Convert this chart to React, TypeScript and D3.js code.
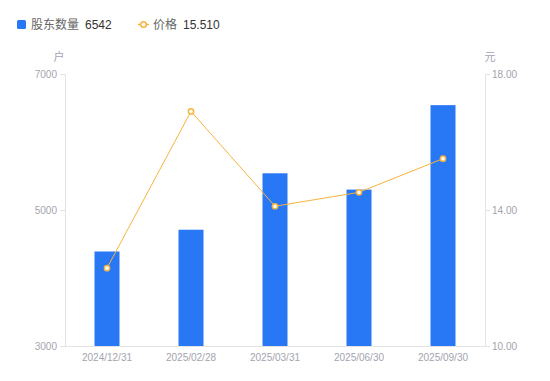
import React from "react";
import * as d3 from "d3";

const categories = ["2024/12/31", "2025/02/28", "2025/03/31", "2025/06/30", "2025/09/30"];
const holders = [4390, 4710, 5540, 5300, 6542];
const prices = [12.29, 16.9, 14.11, 14.52, 15.51];
const leftTicks = [3000, 5000, 7000];
const rightTicks = [10, 14, 18];

const W = 550;
const H = 381;
const M = { left: 65, right: 485, top: 74, bottom: 346 };
const FONT = "'Liberation Sans', 'Noto Sans CJK SC', sans-serif";
const BLUE = "#2878f5";
const ORANGE = "#f7b33d";
const GRAY = "#a3a3b0";

export default function App() {
  const x = d3.scaleBand<string>().domain(categories).range([M.left, M.right]).paddingInner(0).paddingOuter(0);
  const yL = d3.scaleLinear().domain([3000, 7000]).range([M.bottom, M.top]);
  const yR = d3.scaleLinear().domain([10, 18]).range([M.bottom, M.top]);
  const bw = 25;
  const cx = (c: string) => (x(c) as number) + x.bandwidth() / 2;
  const line = d3
    .line<number>()
    .x((_, i) => cx(categories[i]))
    .y((d) => yR(d));

  return (
    <svg width={W} height={H} style={{ position: "absolute", left: 0, top: 0 }} fontFamily={FONT}>
      {/* legend */}
      <rect x={17} y={20} width={9} height={9} rx={1.5} fill={BLUE} />
      <text x={31} y={29} fontSize={12} fill="#666">股东数量</text>
      <text x={85} y={29} fontSize={12} fill="#333">6542</text>
      <line x1={138} x2={149} y1={24.5} y2={24.5} stroke={ORANGE} strokeWidth={1.5} />
      <circle cx={143.5} cy={24.5} r={2.8} fill="#fff" stroke={ORANGE} strokeWidth={1.5} />
      <text x={153} y={29} fontSize={12} fill="#666">价格</text>
      <text x={183} y={29} fontSize={12} fill="#333">15.510</text>

      {/* unit labels */}
      <text x={59} y={61} fontSize={11} fill={GRAY} textAnchor="middle">户</text>
      <text x={490} y={61} fontSize={11} fill={GRAY} textAnchor="middle">元</text>

      {/* axes */}
      <line x1={M.left + 0.5} x2={M.left + 0.5} y1={M.top} y2={M.bottom} stroke="#e3e3e3" />
      <line x1={M.right + 0.5} x2={M.right + 0.5} y1={M.top} y2={M.bottom} stroke="#e3e3e3" />
      <line x1={M.left} x2={M.right} y1={M.bottom + 0.5} y2={M.bottom + 0.5} stroke="#e3e3e3" />
      {leftTicks.map((t) => (
        <g key={"l" + t}>
          <line x1={M.left - 5} x2={M.left} y1={yL(t) + 0.5} y2={yL(t) + 0.5} stroke="#e3e3e3" />
          <text x={M.left - 8} y={yL(t) + 3.5} fontSize={10} fill={GRAY} textAnchor="end">{t}</text>
        </g>
      ))}
      {rightTicks.map((t) => (
        <g key={"r" + t}>
          <line x1={M.right} x2={M.right + 5} y1={yR(t) + 0.5} y2={yR(t) + 0.5} stroke="#e3e3e3" />
          <text x={M.right + 7} y={yR(t) + 3.5} fontSize={10} fill={GRAY}>{t.toFixed(2)}</text>
        </g>
      ))}
      {categories.map((c) => (
        <text key={c} x={cx(c)} y={361} fontSize={10} fill={GRAY} textAnchor="middle">{c}</text>
      ))}

      {/* bars */}
      {holders.map((v, i) => (
        <rect key={i} x={cx(categories[i]) - bw / 2} y={yL(v)} width={bw} height={M.bottom - yL(v)} fill={BLUE} />
      ))}

      {/* line */}
      <path d={line(prices) || ""} fill="none" stroke={ORANGE} strokeWidth={1} />
      {prices.map((p, i) => (
        <circle key={i} cx={cx(categories[i])} cy={yR(p)} r={2.6} fill="#fff" stroke={ORANGE} strokeWidth={1.5} />
      ))}
    </svg>
  );
}
